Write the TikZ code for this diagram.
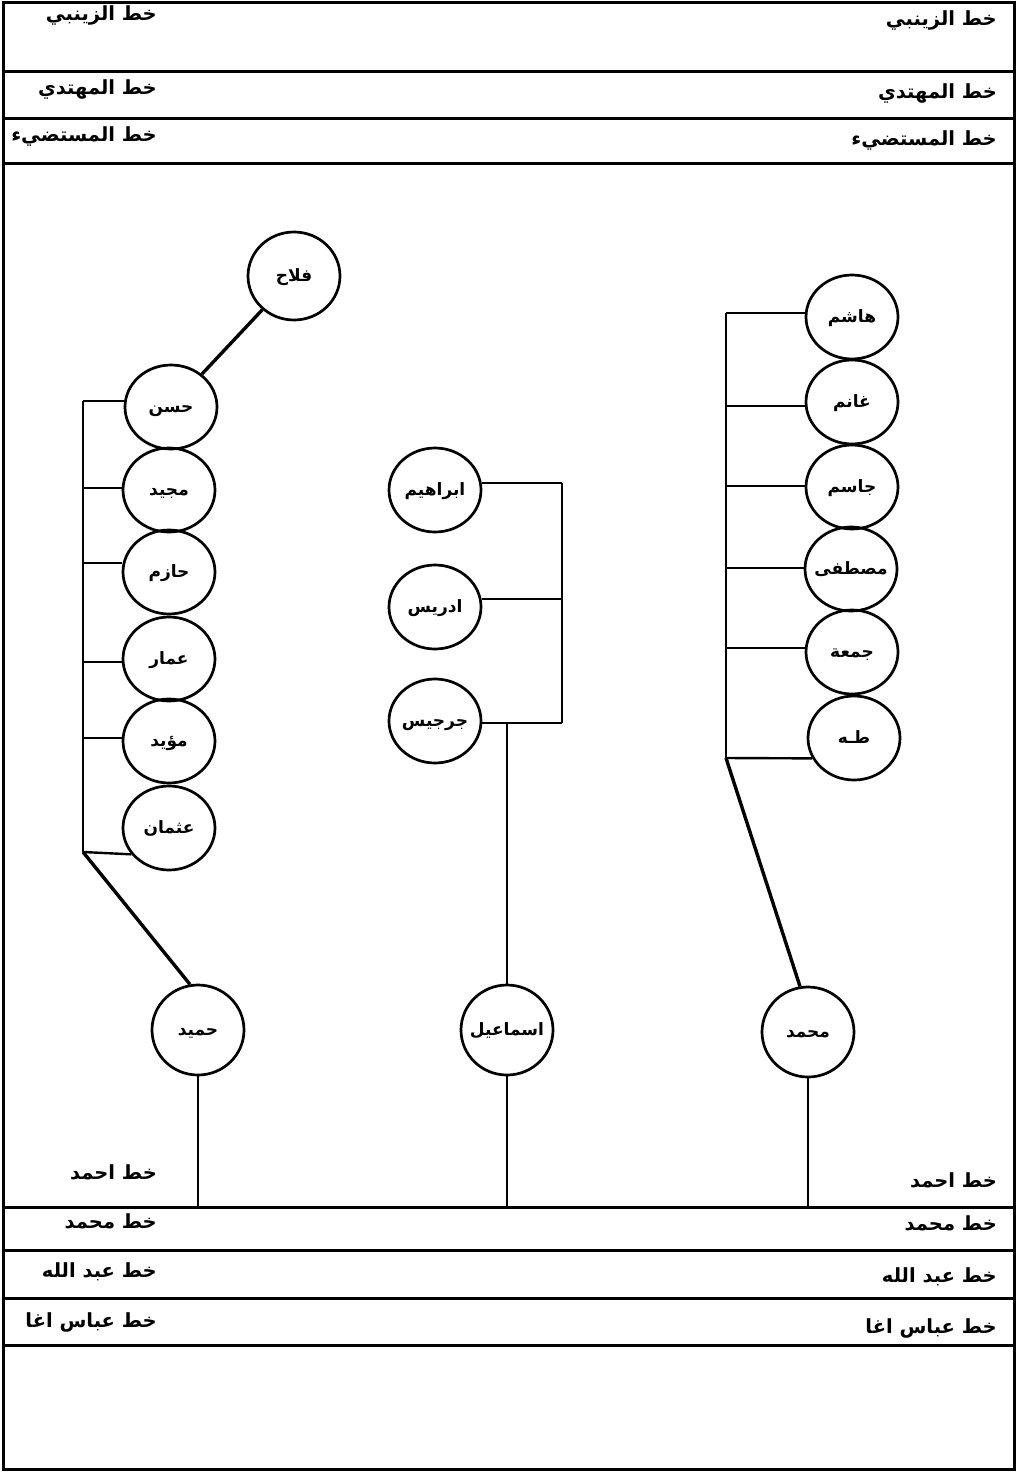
\documentclass[tikz,border=0pt]{standalone}
\usepackage{fontspec}
\usetikzlibrary{shapes.geometric}
\TeXXeTstate=1
\newfontfamily\arfont[Script=Arabic]{DejaVu Sans}
\newcommand{\artxt}[1]{{\arfont\bfseries\beginR #1\endR}}
\newcommand{\nmtxt}[1]{\raisebox{-5pt}[0pt][0pt]{\makebox[0pt]{\artxt{#1}}}}
\begin{document}
\begin{tikzpicture}[x=1pt,y=-1pt,
  person/.style={ellipse,draw,line width=2.7pt,minimum width=92pt,minimum height=84pt,inner sep=0pt,font=\fontsize{17}{19}\selectfont},
  bigperson/.style={person,minimum height=90pt},
  lab/.style={anchor=east,inner sep=0pt,font=\fontsize{19.5}{21}\selectfont},
  framelin/.style={line width=3pt},
  tree/.style={line width=2.4pt},
  diag/.style={line width=3.4pt}]
\useasboundingbox (0,0) rectangle (1017,1472);
% frame
\draw[framelin] (3,3) rectangle (1014,1469);
\foreach \yy in {72,118,163,1207,1250,1298,1345} \draw[framelin] (3,\yy) -- (1014,\yy);
\coordinate (base) at (0,1207);
% labels right
\node[lab] (r1) at (997,20) {\artxt{خط الزينبي}};
\node[lab] (r2) at (997,93) {\artxt{خط المهتدي}};
\node[lab] (r3) at (997,140) {\artxt{خط المستضيء}};
\node[lab] (r4) at (997,1180) {\artxt{خط احمد}};
\node[lab] (r5) at (997,1223) {\artxt{خط محمد}};
\node[lab] (r6) at (997,1277) {\artxt{خط عبد الله}};
\node[lab] (r7) at (997,1328) {\artxt{خط عباس اغا}};
% labels left
\node[lab] (l1) at (157,15) {\artxt{خط الزينبي}};
\node[lab] (l2) at (157,89) {\artxt{خط المهتدي}};
\node[lab] (l3) at (157,136) {\artxt{خط المستضيء}};
\node[lab] (l4) at (157,1172) {\artxt{خط احمد}};
\node[lab] (l5) at (157,1221) {\artxt{خط محمد}};
\node[lab] (l6) at (157,1272) {\artxt{خط عبد الله}};
\node[lab] (l7) at (157,1322) {\artxt{خط عباس اغا}};
% left tree
\node[person,minimum height=88pt] (falah) at (294,276) {\nmtxt{فلاح}};
\node[person] (hasan) at (171,407) {\nmtxt{حسن}};
\node[person] (majid) at (169,490) {\nmtxt{مجيد}};
\node[person] (hazim) at (169,572) {\nmtxt{حازم}};
\node[person] (ammar) at (169,659) {\nmtxt{عمار}};
\node[person] (muayyad) at (169,741) {\nmtxt{مؤيد}};
\node[person] (uthman) at (169,828) {\nmtxt{عثمان}};
\node[bigperson] (hamid) at (198,1030) {\nmtxt{حميد}};
% middle tree
\node[person] (ibrahim) at (435,490) {\nmtxt{ابراهيم}};
\node[person] (idris) at (435,607) {\nmtxt{ادريس}};
\node[person] (jirjis) at (435,721) {\nmtxt{جرجيس}};
\node[bigperson] (ismail) at (507,1030) {\nmtxt{اسماعيل}};
% right tree
\node[person] (hashim) at (852,317) {\nmtxt{هاشم}};
\node[person] (ghanim) at (852,402) {\nmtxt{غانم}};
\node[person] (jasim) at (852,487) {\nmtxt{جاسم}};
\node[person] (mustafa) at (851,569) {\nmtxt{مصطفى}};
\node[person] (juma) at (852,652) {\nmtxt{جمعة}};
\node[person] (taha) at (854,738) {\nmtxt{طـه}};
\node[bigperson] (muhammad) at (808,1032) {\nmtxt{محمد}};
% left connectors
\draw[diag] (falah) -- (hasan);
\coordinate (LT) at (83,401);
\coordinate (L2) at (83,488);
\coordinate (L3) at (83,563);
\coordinate (L4) at (83,662);
\coordinate (L5) at (83,738);
\coordinate (LB) at (83,852);
\draw[tree] (LT) -- (LB);
\draw[tree] (LT) -- (hasan.west |- LT);
\draw[tree] (L2) -- (majid.west |- L2);
\draw[tree] (L3) -- (hazim.west |- L3);
\draw[tree] (L4) -- (ammar.west |- L4);
\draw[tree] (L5) -- (muayyad.west |- L5);
\draw[tree] (LB) -- (uthman.215);
\draw[diag] (LB) -- (hamid.100);
% middle connectors
\coordinate (M1) at (562,483);
\coordinate (M2) at (562,599);
\coordinate (M3) at (562,723);
\draw[tree] (M1) -- (M3);
\draw[tree] (ibrahim.east |- M1) -- (M1);
\draw[tree] (idris.east |- M2) -- (M2);
\draw[tree] (jirjis.east |- M3) -- (M3);
\draw[tree] (ismail.north |- M3) -- (ismail.north);
% right connectors
\coordinate (RT) at (726,313);
\coordinate (R2) at (726,406);
\coordinate (R3) at (726,486);
\coordinate (R4) at (726,568);
\coordinate (R5) at (726,648);
\coordinate (RB) at (726,758);
\draw[tree] (RT) -- (RB);
\draw[tree] (RT) -- (hashim.west |- RT);
\draw[tree] (R2) -- (ghanim.west |- R2);
\draw[tree] (R3) -- (jasim.west |- R3);
\draw[tree] (R4) -- (mustafa.west |- R4);
\draw[tree] (R5) -- (juma.west |- R5);
\draw[tree] (RB) -- (taha.206);
\draw[diag] (RB) -- (muhammad.100);
% down to base line
\draw[tree] (hamid.south) -- (hamid.south |- base);
\draw[tree] (ismail.south) -- (ismail.south |- base);
\draw[tree] (muhammad.south) -- (muhammad.south |- base);
\end{tikzpicture}
\end{document}
